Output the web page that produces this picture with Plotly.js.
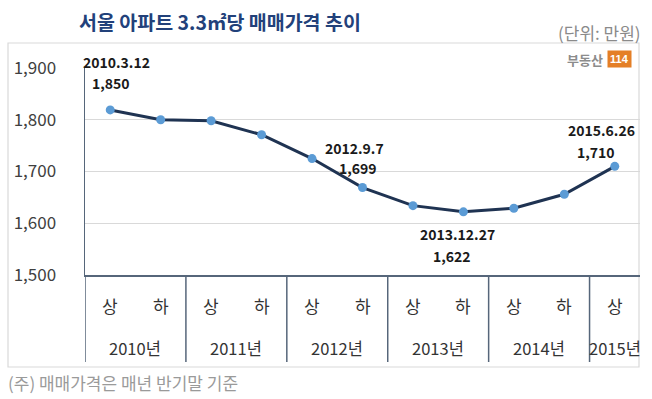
<!DOCTYPE html>
<html>
<head>
<meta charset="utf-8">
<script src="https://cdn.plot.ly/plotly-3.0.1.min.js"></script>
<style>
  html, body { margin: 0; padding: 0; background: #ffffff; }
  #chart { width: 652px; height: 399px; }
</style>
</head>
<body>
<div id="chart"></div>
<script>
// ---- data ----
const categories = ['2010 상','2010 하','2011 상','2011 하','2012 상','2012 하','2013 상','2013 하','2014 상','2014 하','2015 상'];
const halfLabels = ['상','하','상','하','상','하','상','하','상','하','상'];
const years = ['2010','2011','2012','2013','2014','2015'];
const yearLabels = ['2010년','2011년','2012년','2013년','2014년','2015년'];
const prices = [1819, 1800, 1798, 1771, 1725, 1669, 1634, 1622, 1629, 1656, 1710];
const calloutIndex = [0, 5, 7, 10];
const calloutDates = ['2010.3.12', '2012.9.7', '2013.12.27', '2015.6.26'];
const calloutValues = ['1,850', '1,699', '1,622', '1,710'];
const yTicks = [1500, 1600, 1700, 1800, 1900];
const titleText = '서울 아파트 3.3㎡당 매매가격 추이';
const unitText = '(단위: 만원)';
const noteText = '(주) 매매가격은 매년 반기말 기준';

// ---- layout helpers (pixel geometry of plot area) ----
const W = 652, H = 399;
const L = 85, R = 640, T = 68, B = 275;
const pw = R - L, ph = B - T;
const px = x => (x - L) / pw;      // pixel -> paper x
const py = y => (B - y) / ph;      // pixel -> paper y

const KR = '"Noto Sans CJK KR", "Noto Sans", sans-serif';

const trace = {
  type: 'scatter',
  mode: 'lines+markers',
  x: categories,
  y: prices,
  line: { color: '#1f3352', width: 3 },
  marker: { color: '#5b9bd5', size: 9 },
  hoverinfo: 'skip',
  cliponaxis: false
};

const annotations = [];
const shapes = [];

// title, unit, footnote
annotations.push({ xref: 'paper', yref: 'paper', x: px(77), y: py(22), xanchor: 'left', yanchor: 'middle',
  text: '<b>' + titleText + '</b>', showarrow: false, font: { family: KR, size: 19.5, color: '#22417a' } });
annotations.push({ xref: 'paper', yref: 'paper', x: px(643), y: py(33), xanchor: 'right', yanchor: 'middle',
  text: unitText, showarrow: false, font: { family: KR, size: 17, color: '#8a8a8a' } });
annotations.push({ xref: 'paper', yref: 'paper', x: px(6), y: py(382), xanchor: 'left', yanchor: 'middle',
  text: noteText, showarrow: false, font: { family: KR, size: 17, color: '#9a9a9a' } });

// logo
annotations.push({ xref: 'paper', yref: 'paper', x: px(605), y: py(59), xanchor: 'right', yanchor: 'middle',
  text: '<b>부동산</b>', showarrow: false, bgcolor: '#ffffff', font: { family: KR, size: 13, color: '#8c8c8c' } });
annotations.push({ xref: 'paper', yref: 'paper', x: px(607), y: py(59), xanchor: 'left', yanchor: 'middle',
  text: '<b>114</b>', showarrow: false, bgcolor: '#e47f27', borderpad: 2,
  font: { family: 'Liberation Sans Narrow, Liberation Sans, sans-serif', size: 11, color: '#ffffff' } });

// half labels
halfLabels.forEach((h, i) => {
  annotations.push({ xref: 'x', yref: 'paper', x: categories[i], y: py(305), xanchor: 'center', yanchor: 'middle',
    text: h, showarrow: false, font: { family: KR, size: 17, color: '#333333' } });
});
// year labels & dividers
years.forEach((yr, k) => {
  const idx = categories.map((c, i) => c.startsWith(yr) ? i : -1).filter(i => i >= 0);
  const mid = (idx[0] + idx[idx.length - 1]) / 2;
  annotations.push({ xref: 'x', yref: 'paper', x: mid, y: py(348), xanchor: 'center', yanchor: 'middle',
    text: yearLabels[k], showarrow: false, font: { family: KR, size: 16.5, color: '#333333' } });
  shapes.push({ type: 'line', xref: 'x', yref: 'paper', x0: idx[0] - 0.5, x1: idx[0] - 0.5, y0: py(362), y1: 0,
    line: { color: '#56667a', width: 1.5 } });
});

// callouts
const dateShift = [[6, 48], [-8, 40], [-6, -22], [-13, 36]];
const valShift = [[1, 27], [-5, 20], [-11, -44], [-19, 14]];
calloutIndex.forEach((ci, j) => {
  annotations.push({ xref: 'x', yref: 'y', x: categories[ci], y: prices[ci], xshift: dateShift[j][0], yshift: dateShift[j][1],
    xanchor: 'center', yanchor: 'middle', text: '<b>' + calloutDates[j] + '</b>', showarrow: false,
    font: { family: KR, size: 14, color: '#1a1a1a' } });
  annotations.push({ xref: 'x', yref: 'y', x: categories[ci], y: prices[ci], xshift: valShift[j][0], yshift: valShift[j][1],
    xanchor: 'center', yanchor: 'middle', text: '<b>' + calloutValues[j] + '</b>', showarrow: false,
    font: { family: KR, size: 14, color: '#1a1a1a' } });
});

// outer frame
shapes.push({ type: 'rect', xref: 'paper', yref: 'paper', x0: px(8), x1: px(639), y0: py(367), y1: py(43),
  line: { color: '#d9d9d9', width: 1.2 }, layer: 'below' });

const layout = {
  width: W, height: H,
  margin: { l: L, r: W - R, t: T, b: H - B, pad: 0 },
  paper_bgcolor: '#ffffff', plot_bgcolor: '#ffffff',
  showlegend: false,
  xaxis: {
    type: 'category', categoryorder: 'array', categoryarray: categories,
    range: [-0.5, categories.length - 0.5],
    showticklabels: false, ticks: '', showgrid: false, zeroline: false,
    showline: true, linecolor: '#56667a', linewidth: 1.5, fixedrange: true
  },
  yaxis: {
    range: [yTicks[0], yTicks[yTicks.length - 1]],
    tickvals: yTicks, tickformat: ',d', ticks: '', ticklabelstandoff: 24,
    tickfont: { family: KR, size: 17, color: '#404040' },
    showgrid: true, gridcolor: '#d9d9d9', gridwidth: 1,
    zeroline: false, showline: true, linecolor: '#56667a', linewidth: 1.5, fixedrange: true
  },
  annotations: annotations,
  shapes: shapes
};

Plotly.newPlot('chart', [trace], layout, { staticPlot: true, displayModeBar: false });
</script>
</body>
</html>
